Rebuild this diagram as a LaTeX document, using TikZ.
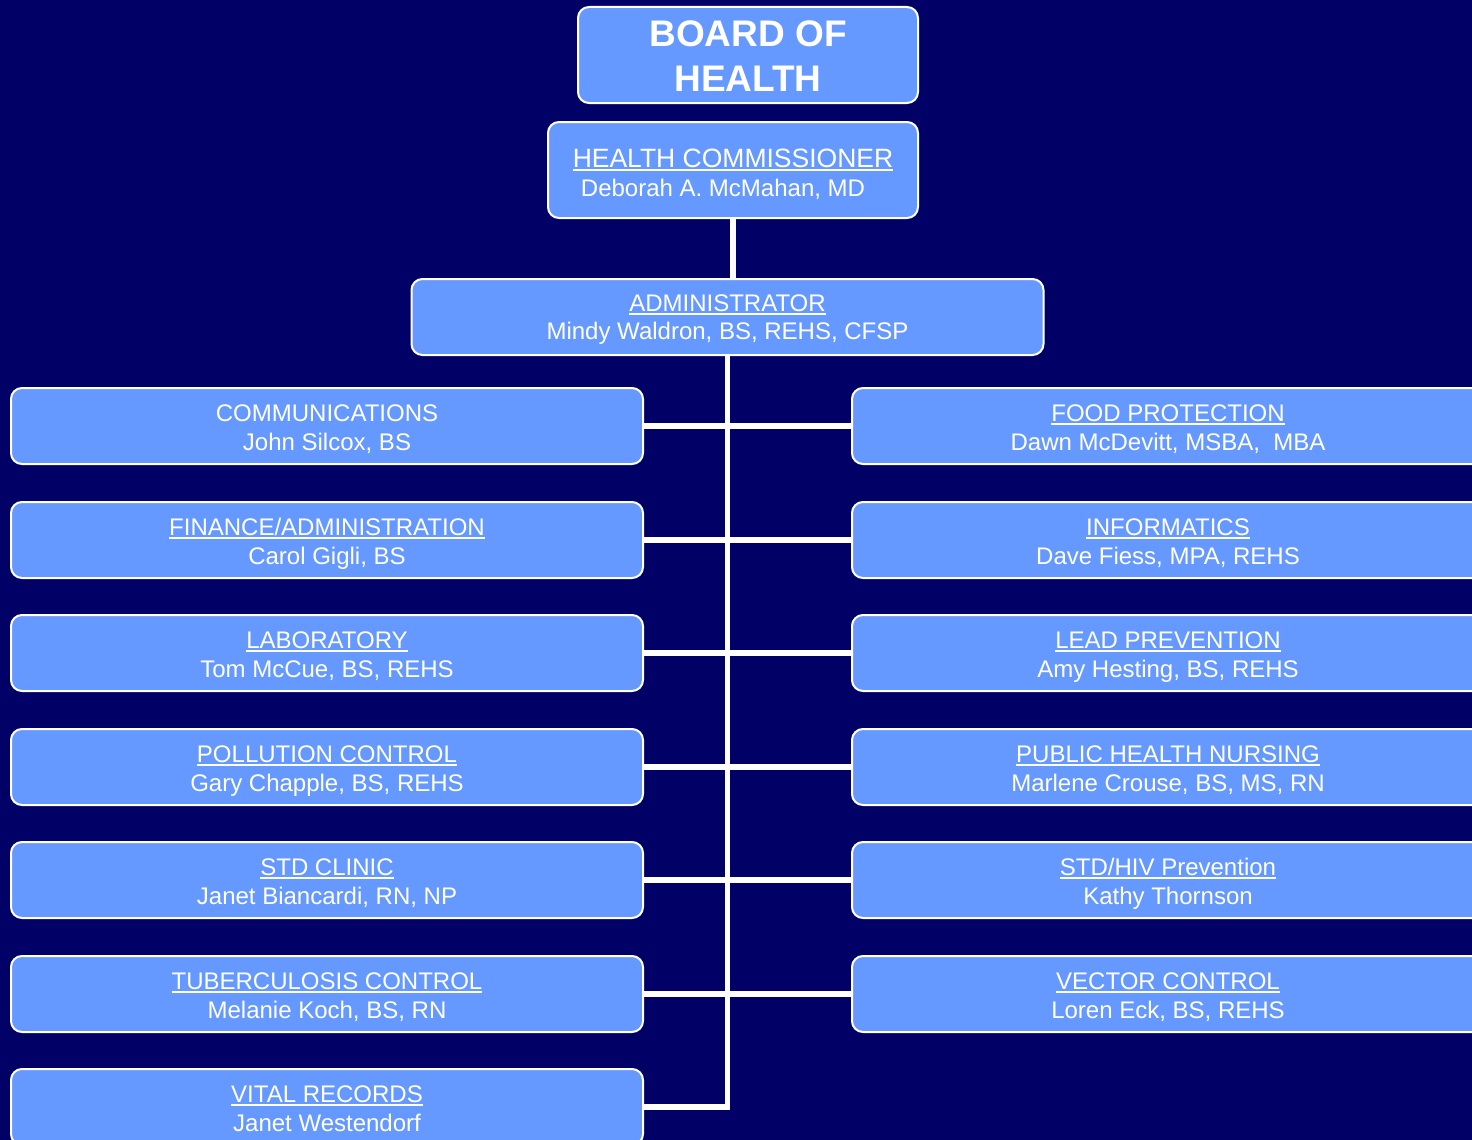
\documentclass[tikz,border=0pt]{standalone}
\usepackage{fontspec}
\setmainfont{Liberation Sans}
\definecolor{bgnavy}{HTML}{000066}
\definecolor{boxblue}{HTML}{6699FF}
\newsavebox\ulbox
\newcommand\ulx[1]{\sbox\ulbox{#1}\rlap{\rule[-3.5pt]{\wd\ulbox}{2pt}}\usebox\ulbox}
\tikzset{
  orgbox/.style={draw=white, line width=2pt, fill=boxblue, rounded corners=11pt,
    minimum height=76pt, inner sep=0pt},
  txt/.style={text=white, inner sep=0pt, anchor=base, font=\fontsize{24}{29}\selectfont},
  bigtxt/.style={txt, font=\fontsize{37}{44}\selectfont\bfseries},
  link/.style={draw=white, line width=5.5pt, line join=miter, line cap=butt}
}
% name, x, y, title, person
\newcommand\orgunit[5]{%
  \node[orgbox, minimum width=632pt] (#1) at (#2,#3) {};
  \node[txt] (#1t) at ([yshift=4.5pt]#1.center) {#4};
  \node[txt] (#1n) at ([yshift=-24pt]#1.center) {#5};
}
\begin{document}
\begin{tikzpicture}[x=1pt,y=-1pt]
\useasboundingbox (0,0) rectangle (1472,1140);
\clip (0,0) rectangle (1472,1140);
\fill[bgnavy] (0,0) rectangle (1472,1140);

% top boxes
\node[orgbox, minimum width=340pt, minimum height=96pt] (board) at (748,55) {};
\node[bigtxt] (boardt) at ([yshift=8pt]board.center) {BOARD OF};
\node[bigtxt] (boardn) at ([yshift=-36pt]board.center) {HEALTH};

\node[orgbox, minimum width=370pt, minimum height=96pt] (hc) at (733,170) {};
\node[txt, font=\fontsize{26.5}{30}\selectfont] (hct) at ([yshift=3pt]hc.center) {\ulx{HEALTH COMMISSIONER}};
\node[txt] (hcn) at ([xshift=-10pt,yshift=-26pt]hc.center) {Deborah A. McMahan, MD};

\node[orgbox, minimum width=632pt] (adm) at (727.5,317) {};
\node[txt] (admt) at ([yshift=6pt]adm.center) {\ulx{ADMINISTRATOR}};
\node[txt] (admn) at ([yshift=-22pt]adm.center) {Mindy Waldron, BS, REHS, CFSP};

% left column
\orgunit{comm}{327}{426}{COMMUNICATIONS}{John Silcox, BS}
\orgunit{fin}{327}{540}{\ulx{FINANCE/ADMINISTRATION}}{Carol Gigli, BS}
\orgunit{lab}{327}{653}{\ulx{LABORATORY}}{Tom McCue, BS, REHS}
\orgunit{poll}{327}{767}{\ulx{POLLUTION CONTROL}}{Gary Chapple, BS, REHS}
\orgunit{std}{327}{880}{\ulx{STD CLINIC}}{Janet Biancardi, RN, NP}
\orgunit{tb}{327}{994}{\ulx{TUBERCULOSIS CONTROL}}{Melanie Koch, BS, RN}
\orgunit{vital}{327}{1107}{\ulx{VITAL RECORDS}}{Janet Westendorf}

% right column
\orgunit{food}{1168}{426}{\ulx{FOOD PROTECTION}}{Dawn McDevitt, MSBA,\ \ MBA}
\orgunit{info}{1168}{540}{\ulx{INFORMATICS}}{Dave Fiess, MPA, REHS}
\orgunit{lead}{1168}{653}{\ulx{LEAD PREVENTION}}{Amy Hesting, BS, REHS}
\orgunit{phn}{1168}{767}{\ulx{PUBLIC HEALTH NURSING}}{Marlene Crouse, BS, MS, RN}
\orgunit{hiv}{1168}{880}{\ulx{STD/HIV Prevention}}{Kathy Thornson}
\orgunit{vect}{1168}{994}{\ulx{VECTOR CONTROL}}{Loren Eck, BS, REHS}

% connectors
\draw[link] (hc.south) -- (hc.south |- adm.north);
\draw[link] (adm.south) |- (vital.east);
\foreach \l/\r in {comm/food, fin/info, lab/lead, poll/phn, std/hiv, tb/vect}{
  \draw[link] (\l.east) -- (\r.west);
}
\end{tikzpicture}
\end{document}
